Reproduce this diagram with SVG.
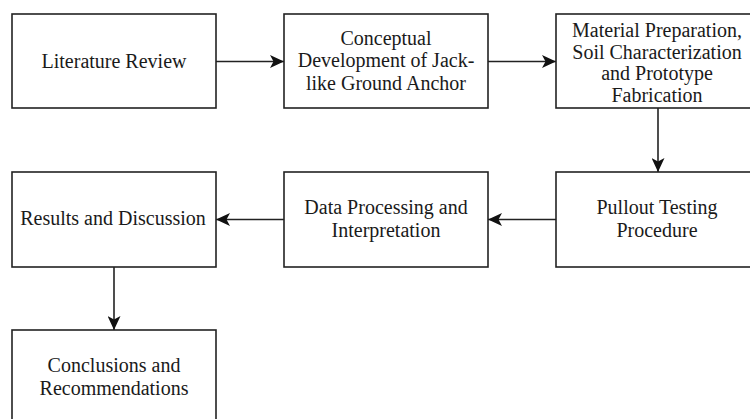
<svg xmlns="http://www.w3.org/2000/svg" width="750" height="419" viewBox="0 0 750 419">
<defs>
<style>
.box{fill:#fff;stroke:#222;stroke-width:1.6}
.t{font-family:"Liberation Serif","Times New Roman",serif;font-size:20px;fill:#1a1a1a;text-anchor:middle}
.c{stroke:#222;stroke-width:1.6;fill:none}
</style>
<marker id="ah" markerUnits="userSpaceOnUse" markerWidth="15" markerHeight="13" refX="14" refY="6.5" orient="auto">
<path d="M0,0 L14,6.5 L0,13 L3.5,6.5 z" fill="#111"/>
</marker>
</defs>
<rect width="750" height="419" fill="#fff"/>
<g id="connectors">
<line class="c" x1="216" y1="61.5" x2="284" y2="61.5" marker-end="url(#ah)"/>
<line class="c" x1="488" y1="61.5" x2="556" y2="61.5" marker-end="url(#ah)"/>
<line class="c" x1="658" y1="108" x2="658" y2="172" marker-end="url(#ah)"/>
<line class="c" x1="556" y1="219.5" x2="488" y2="219.5" marker-end="url(#ah)"/>
<line class="c" x1="284" y1="219.5" x2="216" y2="219.5" marker-end="url(#ah)"/>
<line class="c" x1="114" y1="267" x2="114" y2="330" marker-end="url(#ah)"/>
</g>
<g id="n1">
<rect class="box" x="12" y="14" width="204" height="94"/>
<text class="t" x="114" y="67.5">Literature Review</text>
</g>
<g id="n2">
<rect class="box" x="284" y="14" width="204" height="94"/>
<text class="t" x="386" y="44.5">Conceptual</text>
<text class="t" x="386" y="67">Development of Jack-</text>
<text class="t" x="386" y="89.5">like Ground Anchor</text>
</g>
<g id="n3">
<rect class="box" x="556" y="14" width="204" height="94"/>
<text class="t" x="657" y="36.5">Material Preparation,</text>
<text class="t" x="657" y="58.5">Soil Characterization</text>
<text class="t" x="657" y="80">and Prototype</text>
<text class="t" x="657" y="101.5">Fabrication</text>
</g>
<g id="n4">
<rect class="box" x="556" y="172" width="204" height="95"/>
<text class="t" x="657" y="213.5">Pullout Testing</text>
<text class="t" x="657" y="236.5">Procedure</text>
</g>
<g id="n5">
<rect class="box" x="284" y="172" width="204" height="95"/>
<text class="t" x="386" y="213.5">Data Processing and</text>
<text class="t" x="386" y="236.5">Interpretation</text>
</g>
<g id="n6">
<rect class="box" x="12" y="172" width="204" height="95"/>
<text class="t" x="113" y="225">Results and Discussion</text>
</g>
<g id="n7">
<rect class="box" x="12" y="330" width="204" height="94"/>
<text class="t" x="114" y="372">Conclusions and</text>
<text class="t" x="114" y="395">Recommendations</text>
</g>
</svg>
